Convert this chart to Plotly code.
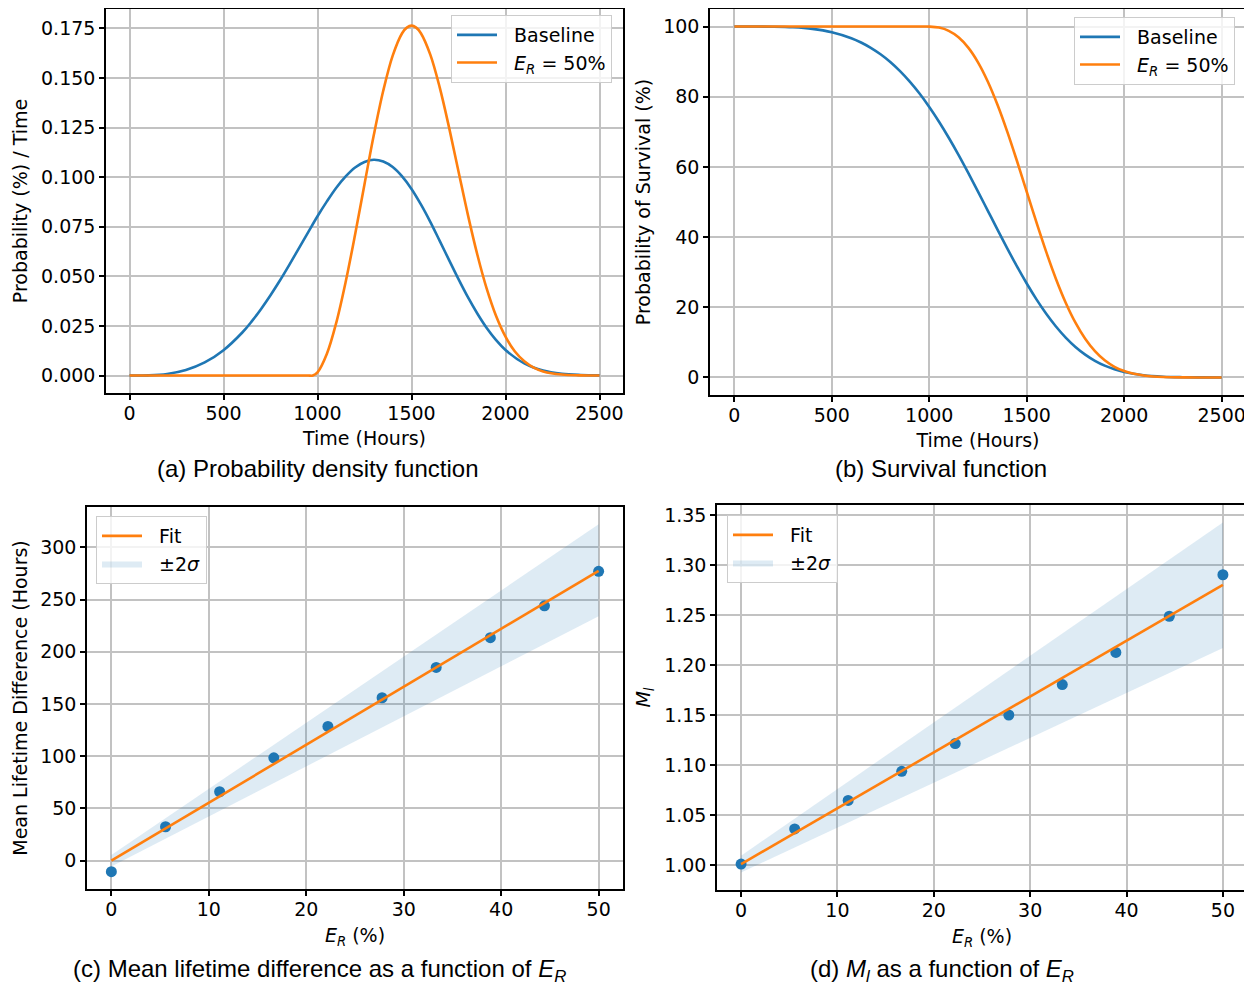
import plotly.graph_objects as go

# ---------------- data ----------------
# (a)/(b) Baseline
t_base = [0, 100, 200, 300, 400, 500, 600, 650, 700, 750, 800, 850, 900, 950, 1000, 1050,
          1100, 1150, 1200, 1250, 1300, 1350, 1400, 1450, 1500, 1550, 1600, 1650, 1700,
          1750, 1800, 1850, 1900, 1950, 2000, 2100, 2200, 2300, 2400, 2500]
pdf_base = [0.0, 0.0001, 0.0008, 0.0028, 0.0066, 0.0128, 0.0217, 0.0273, 0.0336, 0.0405,
            0.0479, 0.0558, 0.0640, 0.0722, 0.0803, 0.0878, 0.0947, 0.1004, 0.1049, 0.1077,
            0.1088, 0.1079, 0.1051, 0.1004, 0.0941, 0.0863, 0.0775, 0.0679, 0.0582, 0.0486,
            0.0395, 0.0313, 0.0240, 0.0179, 0.0129, 0.0061, 0.0025, 0.0009, 0.0003, 0.0001]
surv_base = [100.0, 100.0, 99.96, 99.79, 99.34, 98.39, 96.68, 95.46, 93.94, 92.09, 89.89,
             87.29, 84.30, 80.90, 77.08, 72.88, 68.31, 63.43, 58.29, 52.97, 47.55, 42.12,
             36.79, 31.64, 26.77, 22.26, 18.16, 14.53, 11.37, 8.70, 6.51, 4.74, 3.36, 2.32,
             1.55, 0.63, 0.22, 0.07, 0.02, 0.0]

# (a)/(b) E_R = 50%
t_er = [0, 100, 200, 300, 400, 500, 600, 700, 800, 900, 950, 975, 1000, 1050, 1100, 1150,
        1200, 1250, 1300, 1350, 1400, 1450, 1475, 1500, 1525, 1550, 1600, 1650, 1700, 1750,
        1800, 1850, 1900, 1950, 2000, 2050, 2100, 2150, 2200, 2300, 2400, 2500]
pdf_er = [0.0, 0.0, 0.0, 0.0, 0.0, 0.0, 0.0, 0.0, 0.0, 0.0, 0.0, 0.0, 0.0016, 0.0110, 0.0267,
          0.0473, 0.0711, 0.0965, 0.1215, 0.1437, 0.1613, 0.1726, 0.1754, 0.1764, 0.1754,
          0.1726, 0.1618, 0.1453, 0.1250, 0.1029, 0.0810, 0.0610, 0.0438, 0.0300, 0.0196,
          0.0121, 0.0072, 0.0040, 0.0021, 0.0005, 0.0001, 0.0]
surv_er = [100.0, 100.0, 100.0, 100.0, 100.0, 100.0, 100.0, 100.0, 100.0, 100.0, 100.0,
           100.0, 99.99, 99.70, 98.78, 96.95, 94.00, 89.81, 84.35, 77.71, 70.06, 61.68,
           57.32, 52.92, 48.52, 44.17, 35.78, 28.08, 21.31, 15.61, 11.02, 7.48, 4.88, 3.04,
           1.82, 1.04, 0.57, 0.29, 0.14, 0.03, 0.005, 0.0]

# (c)/(d) points vs E_R
er_pct = [0.0, 5.56, 11.11, 16.67, 22.22, 27.78, 33.33, 38.89, 44.44, 50.0]
mean_life_diff = [-10.5, 32.5, 66.0, 98.5, 128.5, 156.0, 185.0, 213.5, 244.0, 277.0]
m_l = [1.001, 1.0361, 1.0646, 1.0937, 1.1215, 1.1500, 1.1804, 1.2125, 1.2487, 1.2902]

fit_x = [0.0, 50.0]
fit_c = [0.0, 277.5]
band_c_lower = [-5.5, 234.0]
band_c_upper = [5.5, 322.0]
fit_d = [1.001, 1.2801]
band_d_lower = [0.9926, 1.2169]
band_d_upper = [1.0094, 1.3424]

# ---------------- style ----------------
BLUE = "#1f77b4"
ORANGE = "#ff7f0e"
BAND = "rgba(31,119,180,0.15)"
MPL_FONT = "DejaVu Sans"
CAP_FONT = "Liberation Sans"
FS = 19
OFF = 8                       # page body margin
W, H = 1252 - OFF, 987 - OFF
SP = "&nbsp;&nbsp;"


def clamp(v):
    return max(0.0, min(1.0, v))


def dom_x(a, b):
    return [clamp((a - OFF) / W), clamp((b - OFF) / W)]


def dom_y(top, bottom):
    return [clamp(1 - (bottom - OFF) / H), clamp(1 - (top - OFF) / H)]


def px(xp):
    return (xp - OFF) / W


def py(yp):
    return 1 - (yp - OFF) / H


fig = go.Figure()
LINE = dict(width=2.6, shape="spline", smoothing=1.0)

# (a)
fig.add_trace(go.Scatter(x=t_base, y=pdf_base, mode="lines", name=SP + "Baseline",
                         line=dict(color=BLUE, **LINE),
                         xaxis="x", yaxis="y", legend="legend"))
fig.add_trace(go.Scatter(x=t_er, y=pdf_er, mode="lines",
                         name=SP + "<i>E</i><sub><i>R</i></sub> = 50%",
                         line=dict(color=ORANGE, **LINE),
                         xaxis="x", yaxis="y", legend="legend"))
# (b)
fig.add_trace(go.Scatter(x=t_base, y=surv_base, mode="lines", name=SP + "Baseline",
                         line=dict(color=BLUE, **LINE),
                         xaxis="x2", yaxis="y2", legend="legend2"))
fig.add_trace(go.Scatter(x=t_er, y=surv_er, mode="lines",
                         name=SP + "<i>E</i><sub><i>R</i></sub> = 50%",
                         line=dict(color=ORANGE, **LINE),
                         xaxis="x2", yaxis="y2", legend="legend2"))


def add_fit_panel(xa, ya, leg, pts, fit, lo, hi):
    fig.add_trace(go.Scatter(x=fit_x + fit_x[::-1], y=lo + hi[::-1], mode="lines",
                             fill="toself", fillcolor=BAND, line=dict(width=0, color=BAND),
                             name=SP + "±2<i>σ</i>", legendrank=2,
                             xaxis=xa, yaxis=ya, legend=leg))
    fig.add_trace(go.Scatter(x=er_pct, y=pts, mode="markers", showlegend=False,
                             marker=dict(color=BLUE, size=11, line=dict(width=0)),
                             xaxis=xa, yaxis=ya))
    fig.add_trace(go.Scatter(x=fit_x, y=fit, mode="lines", name=SP + "Fit", legendrank=1,
                             line=dict(color=ORANGE, width=2.6),
                             xaxis=xa, yaxis=ya, legend=leg))


add_fit_panel("x3", "y3", "legend3", mean_life_diff, fit_c, band_c_lower, band_c_upper)
add_fit_panel("x4", "y4", "legend4", m_l, fit_d, band_d_lower, band_d_upper)


def axis(domain, rng, dtick, title, anchor, fmt=None, standoff=8, xax=False):
    d = dict(domain=domain, range=rng, dtick=dtick, tick0=0, anchor=anchor,
             showgrid=True, gridcolor="#c2c2c2", gridwidth=1.5,
             zeroline=False, showline=True, linecolor="black", linewidth=1.5,
             mirror=True, ticks="outside", ticklen=5, tickwidth=1.5,
             tickcolor="black", tickfont=dict(family=MPL_FONT, size=FS, color="black"),
             title=dict(text=title, font=dict(family=MPL_FONT, size=FS, color="black"),
                        standoff=standoff))
    if xax:
        d["ticklabelstandoff"] = -3
    if fmt:
        d["tickformat"] = fmt
    return d


layout = dict(
    width=W, height=H, margin=dict(l=0, r=0, t=0, b=0),
    plot_bgcolor="white", paper_bgcolor="white",
    xaxis=axis(dom_x(106, 623), [-125, 2625], 500, "Time (Hours)", "y", standoff=9, xax=True),
    yaxis=axis(dom_y(9, 393), [-0.0088, 0.1848], 0.025, "Probability (%) / Time", "x",
               fmt=".3f", standoff=8),
    xaxis2=axis(dom_x(710, 1246), [-125, 2625], 500, "Time (Hours)", "y2", standoff=9,
                xax=True),
    yaxis2=axis(dom_y(9, 395), [-5, 105], 20, "Probability of Survival (%)", "x2",
                standoff=8),
    xaxis3=axis(dom_x(87, 623), [-2.5, 52.5], 10, "<i>E</i><sub><i>R</i></sub> (%)", "y3",
                standoff=10, xax=True),
    yaxis3=axis(dom_y(507, 889), [-27.1, 338.6], 50, "Mean Lifetime Difference (Hours)",
                "x3", standoff=8),
    xaxis4=axis(dom_x(717, 1247), [-2.5, 52.5], 10, "<i>E</i><sub><i>R</i></sub> (%)", "y4",
                standoff=10, xax=True),
    yaxis4=axis(dom_y(505, 890), [0.9751, 1.3599], 0.05, "<i>M</i><sub><i>l</i></sub>",
                "x4", fmt=".2f", standoff=8),
    showlegend=True,
)

leg_common = dict(bgcolor="rgba(255,255,255,0.8)", bordercolor="#cccccc", borderwidth=1,
                  font=dict(family=MPL_FONT, size=FS, color="black"), itemwidth=40,
                  tracegroupgap=0)
layout["legend"] = dict(x=px(612), y=py(15), xanchor="right", yanchor="top", **leg_common)
layout["legend2"] = dict(x=px(1235), y=py(17), xanchor="right", yanchor="top", **leg_common)
layout["legend3"] = dict(x=px(96), y=py(516), xanchor="left", yanchor="top", **leg_common)
layout["legend4"] = dict(x=px(727), y=py(515), xanchor="left", yanchor="top", **leg_common)

captions = [
    ("(a) Probability density function", 318, 468),
    ("(b) Survival function", 941, 468),
    ("(c) Mean lifetime difference as a function of <i>E</i><sub><i>R</i></sub>", 319, 970),
    ("(d) <i>M</i><sub><i>l</i></sub> as a function of <i>E</i><sub><i>R</i></sub>", 942, 970),
]
layout["annotations"] = [
    dict(text=t, x=px(cx), y=py(cy), xref="paper", yref="paper",
         xanchor="center", yanchor="middle", showarrow=False,
         font=dict(family=CAP_FONT, size=24, color="black"))
    for t, cx, cy in captions
]

fig.update_layout(**layout)
fig.write_html("out.html")
